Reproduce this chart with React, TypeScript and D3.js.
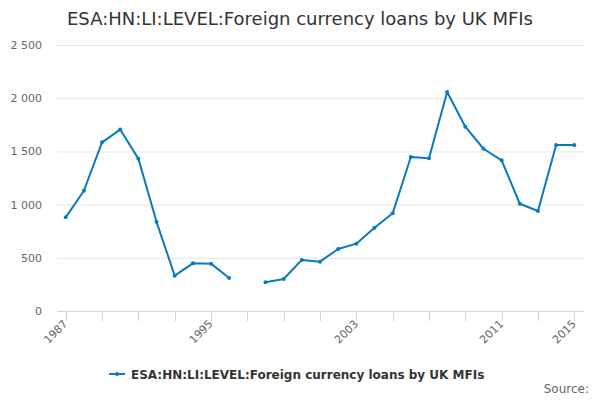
import * as d3 from "d3";

const title = "ESA:HN:LI:LEVEL:Foreign currency loans by UK MFIs";
const seriesName = "ESA:HN:LI:LEVEL:Foreign currency loans by UK MFIs";
const years = [
  1987, 1988, 1989, 1990, 1991, 1992, 1993, 1994, 1995, 1996, 1997, 1998, 1999, 2000, 2001,
  2002, 2003, 2004, 2005, 2006, 2007, 2008, 2009, 2010, 2011, 2012, 2013, 2014, 2015,
];
const values: (number | null)[] = [
  880, 1130, 1585, 1705, 1432, 838, 332, 448, 445, 310, null, 270, 301, 480, 464,
  583, 633, 783, 918, 1447, 1435, 2058, 1732, 1525, 1416, 1008, 940, 1560, 1560,
];
const yTicks = [0, 500, 1000, 1500, 2000, 2500];
const xTickYears = [1987, 1989, 1991, 1993, 1995, 1997, 1999, 2001, 2003, 2005, 2007, 2009, 2011, 2013, 2015];
const xLabelYears = [1987, 1995, 2003, 2011, 2015];

const W = 600;
const H = 400;
const plotLeft = 57;
const plotRight = 584;
const plotTop = 45;
const plotBottom = 311;
const color = "#0a7abf";
const font = "'DejaVu Sans', sans-serif";

export default function App() {
  const x = d3.scaleLinear().domain([1987, 2015]).range([65.7, 574.3]);
  const y = d3.scaleLinear().domain([0, 2500]).range([plotBottom, plotTop]);
  const pts = years.map((yr, i) => ({ yr, v: values[i] }));
  const line = d3
    .line<{ yr: number; v: number | null }>()
    .defined((d) => d.v !== null)
    .x((d) => x(d.yr))
    .y((d) => y(d.v as number));
  const fmt = (v: number) => d3.format(",")(v).replace(/,/g, " ");

  return (
    <svg width={W} height={H} style={{ position: "absolute", left: 0, top: 0, fontFamily: font }}>
      <rect width={W} height={H} fill="#fff" />
      <text x={300} y={25} textAnchor="middle" fontSize={18} fill="#333">
        {title}
      </text>
      {yTicks.map((t) => (
        <g key={t}>
          {t > 0 && (
            <line x1={plotLeft} x2={plotRight} y1={y(t) + 0.5} y2={y(t) + 0.5} stroke="#e6e6e6" />
          )}
          <text x={42} y={y(t) + 4} textAnchor="end" fontSize={11} fill="#666">
            {fmt(t)}
          </text>
        </g>
      ))}
      <line x1={plotLeft} x2={plotRight} y1={plotBottom + 0.5} y2={plotBottom + 0.5} stroke="#ccd6eb" />
      {xTickYears.map((t) => (
        <line key={t} x1={Math.round(x(t)) + 0.5} x2={Math.round(x(t)) + 0.5} y1={plotBottom} y2={plotBottom + 10} stroke="#ccd6eb" />
      ))}
      {xLabelYears.map((t) => (
        <text
          key={t}
          transform={`translate(${x(t) + 2.5},${plotBottom + 13.5}) rotate(-45)`}
          textAnchor="end"
          fontSize={11}
          fill="#666"
        >
          {t}
        </text>
      ))}
      <path d={line(pts) ?? ""} fill="none" stroke={color} strokeWidth={2} strokeLinejoin="round" strokeLinecap="round" />
      {pts
        .filter((d) => d.v !== null)
        .map((d) => (
          <circle key={d.yr} cx={x(d.yr)} cy={y(d.v as number)} r={2} fill={color} />
        ))}
      <g>
        <line x1={109} x2={125} y1={374} y2={374} stroke={color} strokeWidth={2} />
        <circle cx={117} cy={374} r={2} fill={color} />
        <text x={131} y={378.5} fontSize={12} fontWeight="bold" fill="#333">
          {seriesName}
        </text>
      </g>
      <text x={589} y={393} textAnchor="end" fontSize={12} fill="#666">
        Source:
      </text>
    </svg>
  );
}
